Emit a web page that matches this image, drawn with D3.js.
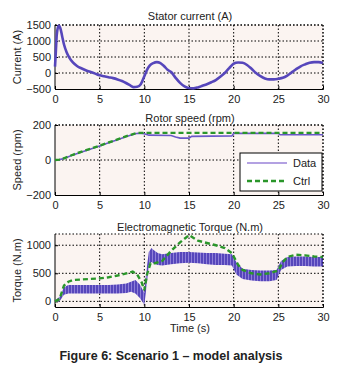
<!DOCTYPE html>
<html>
<head>
<meta charset="utf-8">
<script src="https://cdn.jsdelivr.net/npm/d3@7"></script>
<style>
  body { margin: 0; background: #fff; }
  text { font-family: "Liberation Sans", Arial, sans-serif; fill: #222; }
</style>
</head>
<body>
<svg id="chart" width="348" height="372"></svg>
<script>
// Stator current
const tCurrent = [0,0.1,0.2,0.4,0.6,0.8,1,1.3,1.6,2,2.5,3,3.5,4,4.5,5,5.5,6,6.5,7,7.5,8,8.5,8.8,9.2,9.6,10,10.3,10.6,11,11.4,11.8,12.2,12.6,13,13.5,14,14.5,15,15.5,16,16.5,17,17.5,18,18.5,19,19.5,20,20.5,21,21.5,22,22.5,23,23.5,24,24.5,25,25.5,26,26.5,27,27.5,28,28.5,29,29.5,30];
const current  = [200,700,1200,1480,1400,1150,900,650,480,330,210,140,80,30,-20,-70,-100,-130,-160,-200,-250,-320,-400,-440,-430,-350,-100,100,230,310,340,310,220,100,30,-150,-310,-420,-470,-480,-450,-400,-350,-290,-220,-120,0,150,290,330,320,250,130,0,-100,-170,-200,-200,-180,-150,-80,20,120,210,270,320,340,340,310];

// Rotor speed
const tSpeedCtrl = [0,0.5,1,2,3,4,5,6,7,8,9,9.3,10,30];
const speedCtrl  = [0,2,10,30,48,65,82,100,118,136,152,155,155,155];
const tSpeedData = [0,0.5,1,2,3,4,5,6,7,8,9,9.3,10,10.5,13,13.5,14,15,15.3,19.8,20,25,25.2,30];
const speedData  = [0,2,8,28,46,63,80,98,116,134,150,153,150,142,140,132,125,125,135,138,152,152,144,144];

// Electromagnetic torque (Data is a fast oscillation: kept as its envelope)
const tTorque  = [0,0.5,1,1.5,2,3,4,5,6,7,8,8.5,9,9.5,10,10.2,10.5,10.8,11,11.5,12,13,14,15,16,17,18,19,19.8,20.3,21,22,23,24,24.8,25.3,26,27,28,29,30];
const torqueHi = [20,80,250,290,290,290,290,290,290,300,320,350,380,300,150,500,880,950,920,860,840,860,880,880,870,860,860,850,840,700,580,560,550,550,560,720,790,800,800,790,790];
const torqueLo = [0,0,120,140,140,140,140,140,140,140,150,170,140,60,-60,200,650,700,680,650,640,660,680,690,680,660,650,650,640,480,400,370,360,360,380,560,620,630,630,620,620];
const tTorqueCtrl = [0,0.5,1,1.5,2,3,4,5,6,7,8,8.7,9.2,9.7,10,10.3,10.7,11.2,12,13,14,15,16,17,18,19,19.8,20.5,21,22,23,24,25,25.5,26,27,28,29,30];
const torqueCtrl  = [0,40,280,350,380,390,400,410,430,460,500,530,480,340,200,480,680,680,720,900,1050,1180,1080,1040,1000,950,860,650,560,500,480,500,550,700,790,830,820,800,790];

const xTicks = [0,5,10,15,20,25,30];
const legendNames = ["Data", "Ctrl"];

const purple = "#5646bb";
const green = "#2a962a";

const svg = d3.select("#chart");
const left = 55, right = 323;
const x = d3.scaleLinear().domain([0, 30]).range([left, right]);

// stripes for the oscillating torque band
const defs = svg.append("defs");
const pat = defs.append("pattern")
    .attr("id", "stripes")
    .attr("patternUnits", "userSpaceOnUse")
    .attr("width", 3).attr("height", 4);
pat.append("rect").attr("width", 3).attr("height", 4).attr("fill", "#8f7fd8");
pat.append("rect").attr("width", 2).attr("height", 4).attr("fill", purple);

function panel(top, bottom, yDomain, yTicks, title, titleY, ylabel) {
  const y = d3.scaleLinear().domain(yDomain).range([bottom, top]);
  const g = svg.append("g");

  g.append("rect")
      .attr("x", left).attr("y", top)
      .attr("width", right - left).attr("height", bottom - top)
      .attr("fill", "#fbf4f1");

  // dotted grid
  const dots = "1.5,2";
  g.selectAll(".vg").data(xTicks.filter(d => d > 0)).enter().append("line")
      .attr("x1", d => x(d)).attr("x2", d => x(d))
      .attr("y1", top).attr("y2", bottom)
      .attr("stroke", "#000").attr("stroke-dasharray", dots);
  g.selectAll(".hg").data(yTicks.filter(d => y(d) < bottom - 1)).enter().append("line")
      .attr("x1", left).attr("x2", right)
      .attr("y1", d => y(d)).attr("y2", d => y(d))
      .attr("stroke", "#000").attr("stroke-dasharray", dots);
  g.append("line").attr("x1", left).attr("x2", right).attr("y1", top).attr("y2", top)
      .attr("stroke", "#000").attr("stroke-dasharray", dots);

  // axes
  g.append("g")
      .attr("transform", `translate(0,${bottom})`)
      .call(d3.axisBottom(x).tickValues(xTicks).tickSize(-3).tickPadding(6))
      .call(a => a.select(".domain").attr("stroke", "#000"));
  g.append("g")
      .attr("transform", `translate(${left},0)`)
      .call(d3.axisLeft(y).tickValues(yTicks).tickFormat(d3.format("d")).tickSize(-3).tickPadding(4))
      .call(a => a.select(".domain").remove());
  g.append("line").attr("x1", left).attr("x2", left).attr("y1", top).attr("y2", bottom)
      .attr("stroke", "#000");
  g.selectAll(".tick text")
      .style("font-family", "'Liberation Sans', Arial, sans-serif")
      .style("font-size", "11px").attr("fill", "#222");

  g.append("text")
      .attr("x", 190).attr("y", titleY)
      .attr("text-anchor", "middle")
      .style("font-size", "11px")
      .text(title);

  g.append("text")
      .attr("transform", `translate(21,${(top + bottom) / 2}) rotate(-90)`)
      .attr("text-anchor", "middle")
      .style("font-size", "11px")
      .text(ylabel);

  return { g, y, top, bottom };
}

// Panel 1 - Stator current
const p1 = panel(25, 89, [-500, 1500], [-500,0,500,1000,1500], "Stator current (A)", 20, "Current (A)");
p1.g.append("path")
    .datum(d3.zip(tCurrent, current))
    .attr("fill", "none")
    .attr("stroke", purple)
    .attr("stroke-width", 2.6)
    .attr("d", d3.line().x(d => x(d[0])).y(d => p1.y(d[1])).curve(d3.curveMonotoneX));
p1.g.append("line").attr("x1", right).attr("x2", right).attr("y1", 25).attr("y2", 89)
    .attr("stroke", "#000").attr("stroke-dasharray", "1.5,2");

// Panel 2 - Rotor speed
const p2 = panel(125, 195, [-200, 200], [-200,0,200], "Rotor speed (rpm)", 122, "Speed (rpm)");
p2.g.append("path")
    .datum(d3.zip(tSpeedData, speedData))
    .attr("fill", "none")
    .attr("stroke", "#6a58c8")
    .attr("stroke-width", 1.6)
    .attr("d", d3.line().x(d => x(d[0])).y(d => p2.y(d[1])));
p2.g.append("path")
    .datum(d3.zip(tSpeedCtrl, speedCtrl))
    .attr("fill", "none")
    .attr("stroke", green)
    .attr("stroke-width", 2.4)
    .attr("stroke-dasharray", "5,3")
    .attr("d", d3.line().x(d => x(d[0])).y(d => p2.y(d[1])));
p2.g.append("line").attr("x1", right).attr("x2", right).attr("y1", 125).attr("y2", 195)
    .attr("stroke", "#000").attr("stroke-dasharray", "1.5,2");

// legend
const lg = p2.g.append("g");
lg.append("rect")
    .attr("x", 240).attr("y", 153).attr("width", 82).attr("height", 38)
    .attr("fill", "#fff").attr("stroke", "#000");
legendNames.forEach((name, i) => {
  const ly = 163 + i * 18;
  lg.append("line")
      .attr("x1", 247).attr("x2", 287).attr("y1", ly).attr("y2", ly)
      .attr("stroke", i === 0 ? "#9a82d8" : green)
      .attr("stroke-width", i === 0 ? 1.5 : 2.4)
      .attr("stroke-dasharray", i === 0 ? null : "5,3");
  lg.append("text")
      .attr("x", 293).attr("y", ly + 4)
      .style("font-size", "11px")
      .text(name);
});

// Panel 3 - Torque
const p3 = panel(234, 307, [-100, 1200], [0,500,1000], "Electromagnetic Torque (N.m)", 231, "Torque (N.m)");
p3.g.append("path")
    .datum(d3.range(tTorque.length))
    .attr("fill", "url(#stripes)")
    .attr("d", d3.area()
        .x(i => x(tTorque[i]))
        .y0(i => p3.y(torqueLo[i]))
        .y1(i => p3.y(torqueHi[i])));
p3.g.append("path")
    .datum(d3.zip(tTorqueCtrl, torqueCtrl))
    .attr("fill", "none")
    .attr("stroke", green)
    .attr("stroke-width", 2.4)
    .attr("stroke-dasharray", "5,3")
    .attr("d", d3.line().x(d => x(d[0])).y(d => p3.y(d[1])));
p3.g.append("line").attr("x1", right).attr("x2", right).attr("y1", 234).attr("y2", 307)
    .attr("stroke", "#000").attr("stroke-dasharray", "1.5,2");

svg.append("text")
    .attr("x", 190).attr("y", 332)
    .attr("text-anchor", "middle")
    .style("font-size", "11px")
    .text("Time (s)");

svg.append("text")
    .attr("x", 171).attr("y", 360)
    .attr("text-anchor", "middle")
    .style("font-size", "12.5px")
    .style("font-weight", "bold")
    .text("Figure 6: Scenario 1 \u2013 model analysis");
</script>
</body>
</html>
